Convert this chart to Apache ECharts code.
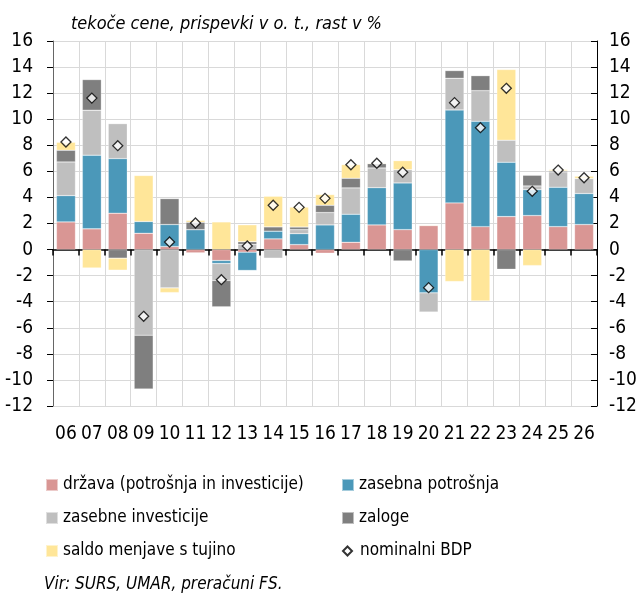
<!DOCTYPE html>
<html>
<head>
<meta charset="utf-8">
<script src="https://cdn.jsdelivr.net/npm/echarts@6/dist/echarts.min.js"></script>
<style>
  html, body { margin: 0; padding: 0; background: #fff; }
  #chart { width: 644px; height: 594px; }
</style>
</head>
<body>
<div id="chart"></div>
<script>
// leta (06 = 2006 ... 26 = 2026)
const years = ['06', '07', '08', '09', '10', '11', '12', '13', '14', '15', '16',
  '17', '18', '19', '20', '21', '22', '23', '24', '25', '26']

// prispevki v o. t.
const drzava = [2.12, 1.59, 2.79, 1.25, 0.23, -0.25, -0.84, -0.2, 0.82, 0.38, -0.28,
  0.56, 1.89, 1.53, 1.84, 3.58, 1.76, 2.53, 2.61, 1.76, 1.92]
const zasebnaPotrosnja = [2.02, 5.65, 4.19, 0.9, 1.69, 1.53, -0.23, -1.4, 0.59, 0.84, 1.89,
  2.15, 2.86, 3.58, -3.32, 7.13, 8.08, 4.17, 1.99, 3.02, 2.38]
const zasebneInvesticije = [2.58, 3.45, 2.68, -6.57, -2.94, 0, -1.3, 0.4, -0.66, 0.31, 0.95,
  2.02, 1.51, 1.02, -1.48, 2.43, 2.35, 1.69, 0.28, 1.18, 1.15]
const zaloge = [0.9, 2.35, -0.66, -4.12, 1.99, 0.56, -2.02, 0.2, 0.33, 0.2, 0.56,
  0.74, 0.33, -0.87, 0, 0.59, 1.15, -1.51, 0.82, 0.08, 0]
const saldo = [0.61, -1.41, -0.92, 3.53, -0.36, 0.15, 2.12, 1.3, 2.35, 1.53, 0.82,
  1.05, 0.05, 0.69, 0.05, -2.45, -3.94, 5.42, -1.23, 0.1, 0.18]
const nominalniBDP = [8.25, 11.62, 7.97, -5.12, 0.58, 2.04, -2.31, 0.28, 3.4, 3.24, 3.93,
  6.51, 6.62, 5.93, -2.92, 11.27, 9.35, 12.37, 4.47, 6.1, 5.51]

const font = '"Liberation Sans Narrow", "DejaVu Sans Condensed", sans-serif'
const gridColor = '#d9d9d9'

const chart = echarts.init(document.getElementById('chart'))

function barSeries(name, data, color) {
  return {
    name: name,
    type: 'bar',
    stack: 'bdp',
    barWidth: 19,
    data: data,
    itemStyle: { color: color, borderColor: 'rgba(255,255,255,0.5)', borderWidth: 0.5 },
  }
}

const option = {
  animation: false,
  textStyle: { fontFamily: font, color: '#000' },
  title: [
    {
      text: 'tekoče cene, prispevki v o. t., rast v %',
      left: 66, top: 10,
      textStyle: { fontFamily: font, fontStyle: 'italic', fontWeight: 'normal', fontSize: 18, color: '#000' },
    },
    {
      text: 'Vir: SURS, UMAR, preračuni FS.',
      left: 39, top: 571,
      textStyle: { fontFamily: font, fontStyle: 'italic', fontWeight: 'normal', fontSize: 17, color: '#000' },
    },
  ],
  grid: { left: 53, right: 47, top: 41, bottom: 188 },
  legend: [
    {
      data: ['država (potrošnja in investicije)', 'zasebne investicije', 'saldo menjave s tujino'],
      orient: 'vertical', left: 40, top: 470,
      itemWidth: 12, itemHeight: 12, itemGap: 13,
      icon: 'rect',
      textStyle: { fontFamily: font, fontSize: 17, color: '#000', lineHeight: 20 },
    },
    {
      data: ['zasebna potrošnja', 'zaloge'],
      orient: 'vertical', left: 336, top: 470,
      itemWidth: 12, itemHeight: 12, itemGap: 13,
      icon: 'rect',
      textStyle: { fontFamily: font, fontSize: 17, color: '#000', lineHeight: 20 },
    },
    {
      data: ['nominalni BDP'],
      left: 337, top: 536,
      itemWidth: 9, itemHeight: 9, itemGap: 13,
      textStyle: { fontFamily: font, fontSize: 17, color: '#000', lineHeight: 20, padding: [0, 0, 0, 3] },
    },
  ],
  xAxis: [
    {
      type: 'category',
      data: years,
      axisLine: { onZero: true, lineStyle: { color: '#000', width: 1.5 } },
      axisTick: { show: true, interval: 0, length: 6, lineStyle: { color: '#000', width: 1.5 } },
      axisLabel: { show: false },
      splitLine: { show: false },
    },
    {
      type: 'category',
      data: years,
      position: 'bottom',
      axisLine: { show: false, onZero: false },
      axisTick: { show: false },
      axisLabel: { fontFamily: font, fontSize: 19, color: '#000', margin: 19, interval: 0 },
      splitLine: { show: true, interval: 0, lineStyle: { color: gridColor, width: 1 } },
    },
  ],
  yAxis: [
    {
      type: 'value',
      min: -12, max: 16, interval: 2,
      axisLine: { show: true, lineStyle: { color: '#666', width: 1 } },
      axisTick: { show: true, length: 6, lineStyle: { color: '#000' } },
      axisLabel: { fontFamily: font, fontSize: 19, color: '#000', margin: 20 },
      splitLine: { show: true, lineStyle: { color: gridColor, width: 1 } },
    },
    {
      type: 'value',
      position: 'right',
      min: -12, max: 16, interval: 2,
      axisLine: { show: true, lineStyle: { color: '#000', width: 1 } },
      axisTick: { show: true, inside: true, length: 6, lineStyle: { color: '#000' } },
      axisLabel: { fontFamily: font, fontSize: 19, color: '#000', margin: 12 },
      splitLine: { show: false },
    },
  ],
  series: [
    barSeries('država (potrošnja in investicije)', drzava, '#d99694'),
    barSeries('zasebna potrošnja', zasebnaPotrosnja, '#4b98b9'),
    barSeries('zasebne investicije', zasebneInvesticije, '#bfbfbf'),
    barSeries('zaloge', zaloge, '#7f7f7f'),
    barSeries('saldo menjave s tujino', saldo, '#ffe699'),
    {
      name: 'nominalni BDP',
      type: 'scatter',
      symbol: 'diamond',
      symbolSize: 10,
      z: 5,
      data: nominalniBDP,
      itemStyle: { color: '#fff', borderColor: '#000', borderWidth: 1.3 },
    },
  ],
}

chart.setOption(option)
</script>
</body>
</html>
